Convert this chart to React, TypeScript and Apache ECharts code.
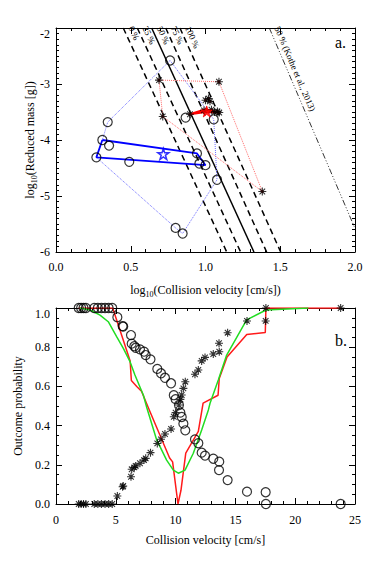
import React, { useEffect, useRef } from 'react';
import * as echarts from 'echarts';

const SERIF = 'Liberation Serif';

// ---------- Panel a data ----------
const thresholdLabels = ['0 %', '25 %', '50 %', '75 %', '100 %'];
const thresholdTopX = [0.45, 0.544, 0.64, 0.734, 0.829]; // at log m = -2
const thresholdBottomX = [1.142, 1.235, 1.324, 1.409, 1.503]; // at log m = -6
const kotheLine = [[1.427, -2], [2.0, -5.58]];
const kotheLabel = '50 % (Kothe et al., 2013)';

const blueCircles = [
  [0.763, -2.58], [0.346, -3.68], [0.31, -4.0], [0.355, -4.1], [0.27, -4.31],
  [0.49, -4.39], [0.943, -4.24], [0.959, -4.42], [1.0, -4.45], [1.077, -4.71],
  [0.8, -5.57], [0.847, -5.67], [0.867, -3.6], [1.055, -3.63],
];
const blueOuterHull = [
  [0.763, -2.58], [1.055, -3.63], [1.077, -4.71], [0.847, -5.67], [0.8, -5.57],
  [0.27, -4.31], [0.31, -4.0], [0.346, -3.68], [0.763, -2.58],
];
const blueInnerHull = [[0.31, -4.0], [0.943, -4.24], [1.0, -4.45], [0.27, -4.31], [0.31, -4.0]];
const blueStar = [[0.718, -4.25]];

const redAsterisks = [
  [0.689, -2.93], [1.09, -2.96], [0.714, -3.58], [1.38, -4.92], [1.0, -3.29],
  [1.02, -3.26], [1.03, -3.31], [0.896, -3.54], [0.99, -3.47], [1.04, -3.46],
  [1.06, -3.5], [1.092, -3.51], [1.08, -3.49],
];
const redOuterHull = [[0.689, -2.93], [1.09, -2.96], [1.38, -4.92], [0.714, -3.58], [0.689, -2.93]];
const redInnerHull = [[0.896, -3.54], [1.0, -3.45], [1.092, -3.51], [1.0, -3.5], [0.896, -3.54]];
const redStar = [[1.008, -3.49]];

// ---------- Panel b data ----------
const velocities = [
  1.9, 2.1, 2.3, 2.5, 3.2, 3.5, 3.8, 4.1, 4.4, 4.7,
  5.13, 5.57, 5.62, 6.27, 6.33, 6.55, 6.66, 7.02, 7.36, 7.5,
  7.9, 8.47, 8.78, 9.11, 9.62, 9.85, 10.0, 10.28, 10.4, 10.51,
  10.65, 10.81, 11.62, 11.9, 12.18, 12.46, 13.15, 13.65, 13.63, 14.35,
  15.97, 17.53, 17.55, 23.8,
];
const circleProb = [
  1, 1, 1, 1, 1, 1, 1, 1, 1, 1,
  0.953, 0.908, 0.905, 0.862, 0.818, 0.805, 0.797, 0.789, 0.777, 0.76,
  0.738, 0.689, 0.667, 0.644, 0.616, 0.555, 0.535, 0.505, 0.466, 0.444,
  0.41, 0.376, 0.33, 0.31, 0.262, 0.247, 0.231, 0.216, 0.173, 0.122,
  0.063, 0.06, 0.0, 0.0,
];
const asteriskProb = [
  0, 0, 0, 0, 0, 0, 0, 0, 0, 0,
  0.041, 0.088, 0.092, 0.139, 0.177, 0.187, 0.194, 0.208, 0.224, 0.233,
  0.262, 0.309, 0.33, 0.357, 0.383, 0.445, 0.466, 0.505, 0.534, 0.556,
  0.59, 0.624, 0.662, 0.684, 0.73, 0.748, 0.765, 0.777, 0.82, 0.874,
  0.934, 0.934, 1.0, 1.0,
];
const redCurve = [
  [1.9, 1.0], [4.74, 1.0], [6.2, 0.73], [6.3, 0.63], [6.75, 0.6], [7.15, 0.575],
  [7.8, 0.48], [9.5, 0.235], [9.75, 0.215], [10.2, 0.0], [10.45, 0.07], [10.85, 0.26],
  [11.9, 0.37], [12.3, 0.515], [13.55, 0.555], [13.65, 0.64], [14.3, 0.75],
  [15.95, 0.865], [17.5, 0.875], [17.55, 1.0], [23.8, 1.0],
];
const greenCurve = [
  [2.0, 1.0], [2.84, 0.99], [3.68, 0.964], [4.37, 0.93], [5.07, 0.854], [5.63, 0.794],
  [6.19, 0.726], [6.6, 0.658], [7.3, 0.556], [7.6, 0.49], [8.42, 0.327], [9.25, 0.224],
  [9.81, 0.173], [10.23, 0.157], [10.79, 0.173], [11.48, 0.259], [12.18, 0.378],
  [12.74, 0.48], [12.88, 0.514], [13.57, 0.633], [14.27, 0.76], [15.94, 0.939],
  [17.56, 0.99], [21.1, 1.0],
];

const ASTERISK = 'path://M0,-10L0,10M-10,0L10,0M-7,-7L7,7M-7,7L7,-7';
const STAR = 'path://M0,-10L2.245,-3.09L9.51,-3.09L3.63,1.18L5.88,8.09L0,3.82L-5.88,8.09L-3.63,1.18L-9.51,-3.09L-2.245,-3.09Z';

function axisBase(minorSplit: number) {
  return {
    axisLine: { show: true, onZero: false, lineStyle: { color: '#000', width: 1 } },
    axisTick: { show: true, inside: true, length: 6, lineStyle: { color: '#000', width: 1 } },
    minorTick: { show: true, splitNumber: minorSplit, length: 3, lineStyle: { color: '#000', width: 1 } },
    splitLine: { show: false },
    minorSplitLine: { show: false },
  };
}

const labelStyle = { color: '#000', fontSize: 12, fontFamily: SERIF };
const richName = {
  a: { fontSize: 12, fontFamily: SERIF, color: '#000', lineHeight: 16, verticalAlign: 'middle' },
  s: { fontSize: 8, fontFamily: SERIF, color: '#000', lineHeight: 8, verticalAlign: 'bottom' },
};

function buildOption() {
  const thresholdSeries = thresholdLabels.map((lab, i) => ({
    type: 'line',
    name: lab,
    xAxisIndex: 0,
    yAxisIndex: 0,
    symbol: 'none',
    lineStyle: { color: '#000', width: 1.5, type: i === 2 ? 'solid' : [6, 4] },
    data: [[thresholdTopX[i], -2], [thresholdBottomX[i], -6]],
    z: 2,
  }));

  return {
    animation: false,
    backgroundColor: '#fff',
    title: [
      { text: 'a.', left: 330, top: 29, textStyle: { fontSize: 16, fontWeight: 'normal', fontFamily: SERIF, color: '#000' } },
      { text: 'b.', left: 330, top: 327, textStyle: { fontSize: 16, fontWeight: 'normal', fontFamily: SERIF, color: '#000' } },
    ],
    grid: [
      { left: 56, top: 28, width: 299, height: 224 },
      { left: 56, top: 308, width: 299, height: 196 },
    ],
    xAxis: [
      {
        type: 'value', gridIndex: 0, min: 0, max: 2, interval: 0.5, position: 'bottom',
        ...axisBase(5),
        axisLabel: { ...labelStyle, margin: 9, formatter: (v: number) => v.toFixed(1) },
        name: '{a|log}{s|10}{a|(Collision velocity [cm/s])}',
        nameLocation: 'middle', nameGap: 30, nameMoveOverlap: false,
        nameTextStyle: { rich: richName },
      },
      {
        type: 'value', gridIndex: 0, min: 0, max: 2, interval: 0.5, position: 'top',
        ...axisBase(5), axisLabel: { show: false },
      },
      {
        type: 'value', gridIndex: 1, min: 0, max: 25, interval: 5, position: 'bottom',
        ...axisBase(5),
        axisLabel: { ...labelStyle, margin: 10, formatter: (v: number) => String(v) },
        name: 'Collision velocity [cm/s]',
        nameLocation: 'middle', nameGap: 30, nameMoveOverlap: false,
        nameTextStyle: { ...labelStyle },
      },
      {
        type: 'value', gridIndex: 1, min: 0, max: 25, interval: 5, position: 'top',
        ...axisBase(5), axisLabel: { show: false },
      },
    ],
    yAxis: [
      {
        type: 'value', gridIndex: 0, min: -6, max: -2, interval: 1, position: 'left',
        ...axisBase(10),
        axisLabel: { ...labelStyle, margin: 6, verticalAlignMaxLabel: 'top', formatter: (v: number) => String(v) },
        name: '{a|log}{s|10}{a|(Reduced mass [g])}',
        nameLocation: 'middle', nameGap: 18, nameRotate: 90, nameMoveOverlap: false,
        nameTextStyle: { rich: richName },
      },
      {
        type: 'value', gridIndex: 0, min: -6, max: -2, interval: 1, position: 'right',
        ...axisBase(10), axisLabel: { show: false },
      },
      {
        type: 'value', gridIndex: 1, min: 0, max: 1, interval: 0.2, position: 'left',
        ...axisBase(4),
        axisLabel: { ...labelStyle, margin: 6, verticalAlignMaxLabel: 'top', formatter: (v: number) => v.toFixed(1) },
        name: 'Outcome probability',
        nameLocation: 'middle', nameGap: 32, nameRotate: 90, nameMoveOverlap: false,
        nameTextStyle: { ...labelStyle },
      },
      {
        type: 'value', gridIndex: 1, min: 0, max: 1, interval: 0.2, position: 'right',
        ...axisBase(4), axisLabel: { show: false },
      },
    ],
    series: [
      ...thresholdSeries,
      {
        type: 'line', xAxisIndex: 0, yAxisIndex: 0, symbol: 'none',
        lineStyle: { color: '#000', width: 0.8, type: [6, 2, 1, 2, 1, 2, 1, 2] },
        data: kotheLine,
      },
      {
        type: 'line', xAxisIndex: 0, yAxisIndex: 0, symbol: 'none',
        lineStyle: { color: '#7070ff', width: 1, type: 'dotted' }, data: blueOuterHull, z: 3,
      },
      {
        type: 'line', xAxisIndex: 0, yAxisIndex: 0, symbol: 'none',
        lineStyle: { color: '#0000ff', width: 1.8 }, data: blueInnerHull, z: 3,
      },
      {
        type: 'line', xAxisIndex: 0, yAxisIndex: 0, symbol: 'none',
        lineStyle: { color: '#ff6a6a', width: 1, type: 'dotted' }, data: redOuterHull, z: 3,
      },
      {
        type: 'line', xAxisIndex: 0, yAxisIndex: 0, symbol: 'none',
        lineStyle: { color: '#ff0000', width: 2 }, data: redInnerHull, z: 3,
      },
      {
        type: 'scatter', xAxisIndex: 0, yAxisIndex: 0, symbol: 'circle', symbolSize: 9,
        itemStyle: { color: 'rgba(0,0,0,0)', borderColor: '#000', borderWidth: 1.2 },
        data: blueCircles, z: 4,
      },
      {
        type: 'scatter', xAxisIndex: 0, yAxisIndex: 0, symbol: 'circle', symbolSize: 3,
        itemStyle: { color: '#a00000' }, data: redAsterisks, z: 4,
      },
      {
        type: 'scatter', xAxisIndex: 0, yAxisIndex: 0, symbol: ASTERISK, symbolSize: 8,
        itemStyle: { color: 'rgba(0,0,0,0)', borderColor: '#000', borderWidth: 1.1 },
        data: redAsterisks, z: 5,
      },
      {
        type: 'scatter', xAxisIndex: 0, yAxisIndex: 0, symbol: STAR, symbolSize: 11,
        itemStyle: { color: 'rgba(0,0,0,0)', borderColor: '#0000ff', borderWidth: 1.5 },
        data: blueStar, z: 6,
      },
      {
        type: 'scatter', xAxisIndex: 0, yAxisIndex: 0, symbol: STAR, symbolSize: 11,
        itemStyle: { color: '#ff0000', borderColor: '#ff0000', borderWidth: 1 },
        data: redStar, z: 6,
      },
      // Panel b
      {
        type: 'line', xAxisIndex: 2, yAxisIndex: 2, symbol: 'none',
        lineStyle: { color: '#ff1a1a', width: 1.5 }, data: redCurve, z: 3,
      },
      {
        type: 'line', xAxisIndex: 2, yAxisIndex: 2, symbol: 'none',
        lineStyle: { color: '#22dd22', width: 1.5 }, data: greenCurve, z: 3,
      },
      {
        type: 'scatter', xAxisIndex: 2, yAxisIndex: 2, symbol: 'circle', symbolSize: 9,
        itemStyle: { color: 'rgba(0,0,0,0)', borderColor: '#000', borderWidth: 1.2 },
        data: velocities.map((v, i) => [v, circleProb[i]]), z: 4,
      },
      {
        type: 'scatter', xAxisIndex: 2, yAxisIndex: 2, symbol: ASTERISK, symbolSize: 8,
        itemStyle: { color: 'rgba(0,0,0,0)', borderColor: '#000', borderWidth: 1.1 },
        data: velocities.map((v, i) => [v, asteriskProb[i]]), z: 5,
      },
    ],
  };
}

function lineLabel(chart: any, from: number[], to: number[], text: string) {
  const p0 = chart.convertToPixel({ xAxisIndex: 0, yAxisIndex: 0 }, from);
  const p1 = chart.convertToPixel({ xAxisIndex: 0, yAxisIndex: 0 }, to);
  const ang = Math.atan2(p1[1] - p0[1], p1[0] - p0[0]); // clockwise angle on screen
  const dx = Math.cos(ang), dy = Math.sin(ang);
  // shift 3px to the right of the line, 2px along it
  const x = p0[0] + dx * 2 + dy * 3;
  const y = p0[1] + dy * 2 - dx * 3;
  return {
    type: 'text',
    x,
    y,
    rotation: -ang,
    z: 10,
    style: {
      text,
      fill: '#000',
      font: `9px ${SERIF}`,
      align: 'left',
      verticalAlign: 'bottom',
    },
  };
}

export default function App() {
  const ref = useRef<HTMLDivElement>(null);
  useEffect(() => {
    const chart = echarts.init(ref.current as HTMLDivElement, null, { renderer: 'svg' });
    chart.setOption(buildOption() as any);
    const graphics = thresholdLabels.map((lab, i) =>
      lineLabel(chart, [thresholdTopX[i], -2], [thresholdBottomX[i], -6], lab)
    );
    graphics.push(lineLabel(chart, kotheLine[0], kotheLine[1], kotheLabel));
    chart.setOption({ graphic: graphics } as any);
    return () => chart.dispose();
  }, []);
  return (
    <div
      ref={ref}
      style={{ position: 'fixed', left: 0, top: 0, width: 374, height: 561, background: '#fff' }}
    />
  );
}
